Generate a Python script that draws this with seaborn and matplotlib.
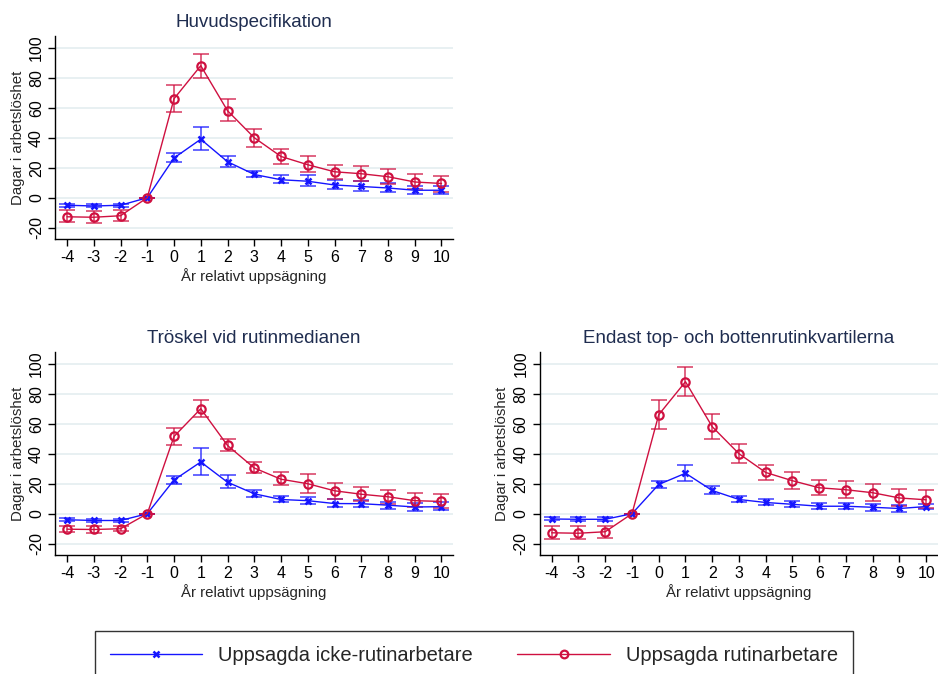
import numpy as np
import pandas as pd
import matplotlib
matplotlib.use("Agg")
import matplotlib.pyplot as plt
import seaborn as sns
from matplotlib.lines import Line2D

# Years relative to layoff
years = [-4, -3, -2, -1, 0, 1, 2, 3, 4, 5, 6, 7, 8, 9, 10]

# --- Huvudspecifikation ---
main_nonroutine = [-5, -5.5, -5, 0, 26.5, 39, 24, 15.5, 12, 11, 8.5, 7.5, 6.5, 5, 5]
main_nonroutine_lo = [-6, -6.5, -6, 0, 24, 31.5, 20.5, 13.5, 9.5, 7.5, 5.5, 4.5, 3.5, 2.5, 2.5]
main_nonroutine_hi = [-4, -4.5, -4, 0, 29.5, 47, 27.5, 18, 15, 15, 12, 11, 9.5, 7.5, 7.5]
main_routine = [-12.7, -13, -12, 0, 66, 88, 58, 40, 27.5, 22, 17.3, 16, 14, 10.5, 9.5]
main_routine_lo = [-16.5, -17, -15.5, 0, 57, 80, 51, 34, 22.5, 17, 12.5, 11, 9, 5.5, 4]
main_routine_hi = [-8.5, -9, -8.5, 0, 75, 96, 65.5, 45.5, 32.5, 27.5, 22, 21, 19, 15.5, 14.5]

# --- Tröskel vid rutinmedianen ---
med_nonroutine = [-4, -4.5, -4.5, 0, 22.5, 34.5, 21, 13.3, 9.5, 8.7, 6.8, 6.7, 5.7, 4.5, 4.7]
med_nonroutine_lo = [-5, -5.5, -5.5, 0, 20, 26, 17, 11, 8, 6.5, 4.5, 4.5, 3, 2, 2.5]
med_nonroutine_hi = [-3, -3.5, -3.5, 0, 25, 44, 25.5, 15.5, 11.5, 11, 9.5, 9, 8, 7, 7.5]
med_routine = [-10.3, -10.5, -10, 0, 51.5, 70, 45.5, 30.5, 23, 20, 15.3, 13, 11.3, 8.7, 8.2]
med_routine_lo = [-12, -13, -11.5, 0, 46, 64.5, 41.5, 27, 19, 14, 10, 8.5, 6.5, 4.5, 4]
med_routine_hi = [-8, -8.5, -8, 0, 57, 76, 49.5, 34.5, 27.5, 26.5, 20.5, 18, 16, 13.5, 13]

# --- Endast top- och bottenrutinkvartilerna ---
q_nonroutine = [-3.5, -3.7, -3.7, 0, 19.5, 27, 15.5, 9.5, 7.5, 6.3, 5, 5, 4.3, 3.5, 4.8]
q_nonroutine_lo = [-4.5, -5, -5, 0, 17, 22, 13, 7.5, 5.5, 4.5, 3, 3, 2, 1, 3]
q_nonroutine_hi = [-2.5, -2.5, -2.5, 0, 22, 32.5, 18.5, 11.5, 9.5, 8.5, 7, 7, 6.5, 5.5, 6.5]
q_routine = [-12.7, -13, -12, 0, 66, 88, 58, 40, 27.5, 22, 17.3, 16, 14, 10.5, 9.3]
q_routine_lo = [-17, -17, -16, 0, 56.5, 78.5, 50, 33.5, 22.5, 16.5, 12.5, 10.5, 8.5, 5, 3.5]
q_routine_hi = [-8, -8.5, -8.5, 0, 75.5, 97.5, 66.5, 46.5, 32.5, 28, 22.5, 21.5, 19.5, 16.5, 15.5]

titles = ["Huvudspecifikation", "Tröskel vid rutinmedianen",
          "Endast top- och bottenrutinkvartilerna"]
series_names = ["Uppsagda icke-rutinarbetare", "Uppsagda rutinarbetare"]
xlabel = "År relativt uppsägning"
ylabel = "Dagar i arbetslöshet"
yticks = [-20, 0, 20, 40, 60, 80, 100]

panels = [
    (main_nonroutine, main_nonroutine_lo, main_nonroutine_hi,
     main_routine, main_routine_lo, main_routine_hi),
    (med_nonroutine, med_nonroutine_lo, med_nonroutine_hi,
     med_routine, med_routine_lo, med_routine_hi),
    (q_nonroutine, q_nonroutine_lo, q_nonroutine_hi,
     q_routine, q_routine_lo, q_routine_hi),
]

sns.set_style("ticks")
plt.rcParams["font.family"] = ["Liberation Sans", "DejaVu Sans"]

BLUE = "#1515ff"
RED = "#cf1040"
TITLE_C = "#1f2d50"
GRID_C = "#e4edf0"

W, H = 938, 674
fig = plt.figure(figsize=(W / 100, H / 100), dpi=100)

axes_px = [(55, 35.7), (55, 351.7), (539.7, 351.7)]  # left, top in pixels
ax_w, ax_h = 398, 203.3

styles = [
    dict(color=BLUE, marker="x", ms=4.5, mew=1.8),
    dict(color=RED, marker="o", ms=6.0, mew=1.6),
]

for (lx, ty), title, vals in zip(axes_px, titles, panels):
    ax = fig.add_axes([lx / W, 1 - (ty + ax_h) / H, ax_w / W, ax_h / H])
    for g in yticks:
        ax.axhline(g, color=GRID_C, lw=1.2, zorder=0)
    for k in range(2):
        est, lo, hi = vals[3 * k], vals[3 * k + 1], vals[3 * k + 2]
        st = styles[k]
        df = pd.DataFrame({"year": years, "est": est, "lo": lo, "hi": hi})
        ax.errorbar(df["year"], df["est"],
                    yerr=[df["est"] - df["lo"], df["hi"] - df["est"]],
                    fmt="none", ecolor=st["color"], alpha=0.65,
                    elinewidth=1.4, capsize=6, capthick=1.4, zorder=2)
        sns.lineplot(data=df, x="year", y="est", ax=ax, color=st["color"],
                     lw=1.0, marker=st["marker"], markersize=st["ms"],
                     markerfacecolor="none", markeredgecolor=st["color"],
                     markeredgewidth=st["mew"], zorder=3)
    ax.set_xlim(-4.45, 10.43)
    ax.set_ylim(-27.5, 108)
    ax.set_xticks(years)
    ax.set_xticklabels([str(y) for y in years])
    ax.set_yticks(yticks)
    ax.set_yticklabels([str(y) for y in yticks], rotation=90, va="center")
    ax.tick_params(axis="both", length=5, width=1, color="black",
                   labelsize=11.5, labelcolor="black", pad=3)
    ax.set_xlabel(xlabel, fontsize=10.8, labelpad=2)
    ax.set_ylabel(ylabel, fontsize=10.8, labelpad=3)
    ax.set_title(title, fontsize=13.5, color=TITLE_C, pad=6)
    for s in ["top", "right"]:
        ax.spines[s].set_visible(False)
    for s in ["left", "bottom"]:
        ax.spines[s].set_color("black")
        ax.spines[s].set_linewidth(1)
    ax.set_facecolor("white")

handles = [
    Line2D([], [], color=BLUE, lw=1.0, marker="x", ms=4.5, mew=1.8),
    Line2D([], [], color=RED, lw=1.0, marker="o", ms=5.5, mew=1.6,
           markerfacecolor="none"),
]
leg = fig.legend(handles, series_names, loc="upper center",
                 bbox_to_anchor=(474 / W, 1 - 631 / H), ncol=2,
                 fontsize=14.5, frameon=True, fancybox=False,
                 handlelength=4.6, handletextpad=0.8, columnspacing=2.2,
                 borderpad=0.75, borderaxespad=0)
leg.get_frame().set_edgecolor("black")
leg.get_frame().set_linewidth(1)

fig.savefig("out.png", dpi=100, facecolor="white")
